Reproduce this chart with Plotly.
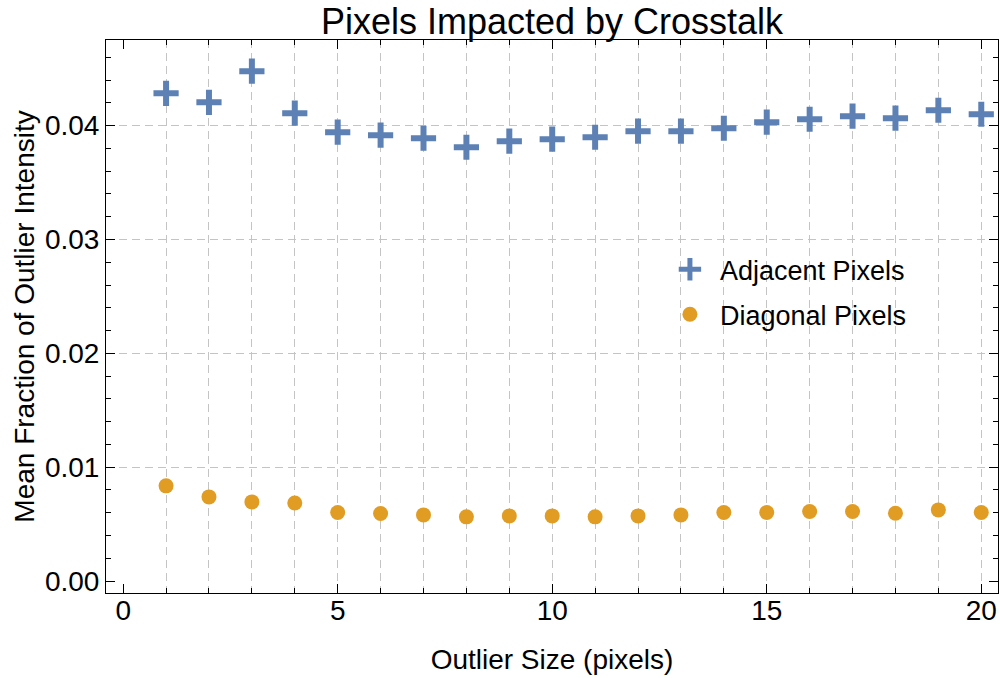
import plotly.graph_objects as go

# ------------------------------------------------------------------
# Data
# ------------------------------------------------------------------
OUTLIER_SIZE = list(range(1, 21))

ADJACENT = [0.04284, 0.04205, 0.04478, 0.04109, 0.03942, 0.03916, 0.03889,
            0.03810, 0.03863, 0.03881, 0.03898, 0.03951, 0.03951, 0.03977,
            0.04030, 0.04056, 0.04083, 0.04065, 0.04135, 0.04100]

DIAGONAL = [0.00836, 0.00739, 0.00695, 0.00686, 0.00602, 0.00593, 0.00581,
            0.00564, 0.00572, 0.00572, 0.00564, 0.00572, 0.00581, 0.00602,
            0.00602, 0.00611, 0.00611, 0.00596, 0.00625, 0.00602]

X_TICKS = [0, 5, 10, 15, 20]
Y_TICKS = [0.0, 0.01, 0.02, 0.03, 0.04]
Y_TICK_TEXT = ["0.00", "0.01", "0.02", "0.03", "0.04"]
X_GRID = list(range(1, 21))
Y_GRID = [0.01, 0.02, 0.03, 0.04]

X_RANGE = [-0.40, 20.39]
Y_RANGE = [-0.00105, 0.04752]

# ------------------------------------------------------------------
# Style
# ------------------------------------------------------------------
FONT = "Liberation Sans, Arial, sans-serif"
BLUE = "#5E81B5"
ORANGE = "#E19C24"
GRID = "#C4C4C4"

W, H = 1000, 678

fig = go.Figure()

fig.add_trace(go.Scatter(
    x=OUTLIER_SIZE, y=ADJACENT, mode="markers", name="Adjacent Pixels",
    legendgroup="adj",
    marker=dict(symbol="cross-thin", size=18, color=BLUE,
                line=dict(color=BLUE, width=6)),
))
fig.add_trace(go.Scatter(
    x=OUTLIER_SIZE, y=DIAGONAL, mode="markers", name="Diagonal Pixels",
    legendgroup="diag",
    marker=dict(symbol="circle", size=15, color=ORANGE, line=dict(width=0)),
))
# empty trace so the grid-only overlay axes exist
fig.add_trace(go.Scatter(x=[], y=[], xaxis="x2", yaxis="y2",
                         showlegend=False, hoverinfo="skip"))

axis_common = dict(
    showline=True, linecolor="black", linewidth=1, mirror="ticks",
    ticks="inside", ticklen=9, tickwidth=1, tickcolor="black",
    showgrid=False, zeroline=False,
    tickfont=dict(family=FONT, size=28, color="black"),
    title_font=dict(family=FONT, size=28, color="black"),
)

fig.update_layout(
    xaxis=dict(
        axis_common, range=X_RANGE, tickmode="array", tickvals=X_TICKS,
        ticklabelstandoff=-8,
        minor=dict(dtick=1, tick0=0, ticks="inside", ticklen=5,
                   tickcolor="black", showgrid=False),
        title=dict(text="Outlier Size (pixels)", standoff=24),
    ),
    yaxis=dict(
        axis_common, range=Y_RANGE, tickmode="array", tickvals=Y_TICKS,
        ticktext=Y_TICK_TEXT,
        minor=dict(dtick=0.002, tick0=0, ticks="inside", ticklen=5,
                   tickcolor="black", showgrid=False),
        title=dict(text="Mean Fraction of Outlier Intensity", standoff=2),
    ),
    xaxis2=dict(
        overlaying="x", anchor="y2", range=X_RANGE, tickmode="array",
        tickvals=X_GRID, showticklabels=False, ticks="", showline=False,
        zeroline=False, showgrid=True, gridcolor=GRID, gridwidth=1,
        griddash="8px,5px",
    ),
    yaxis2=dict(
        overlaying="y", anchor="x2", range=Y_RANGE, tickmode="array",
        tickvals=Y_GRID, showticklabels=False, ticks="", showline=False,
        zeroline=False, showgrid=True, gridcolor=GRID, gridwidth=1,
        griddash="8px,5px",
    ),
    title=dict(text="Pixels Impacted by Crosstalk", x=0.5, xref="paper",
               xanchor="center", y=1 - 21 / H, yanchor="middle",
               font=dict(family=FONT, size=36, color="black")),
    legend=dict(x=0.621, y=0.629, xanchor="left", yanchor="top",
                bgcolor="rgba(0,0,0,0)", borderwidth=0,
                font=dict(family=FONT, size=27, color="black"),
                traceorder="grouped", tracegroupgap=7, itemwidth=50),
    width=W, height=H,
    margin=dict(l=106, r=2, t=40, b=85),
    plot_bgcolor="white", paper_bgcolor="white",
    showlegend=True,
)

# drop the browser's default body margin so the figure fills the window
fig.write_html(
    "out.html",
    config={"displayModeBar": False},
    post_script="document.body.style.margin='0';"
                "document.body.style.overflow='hidden';",
)
